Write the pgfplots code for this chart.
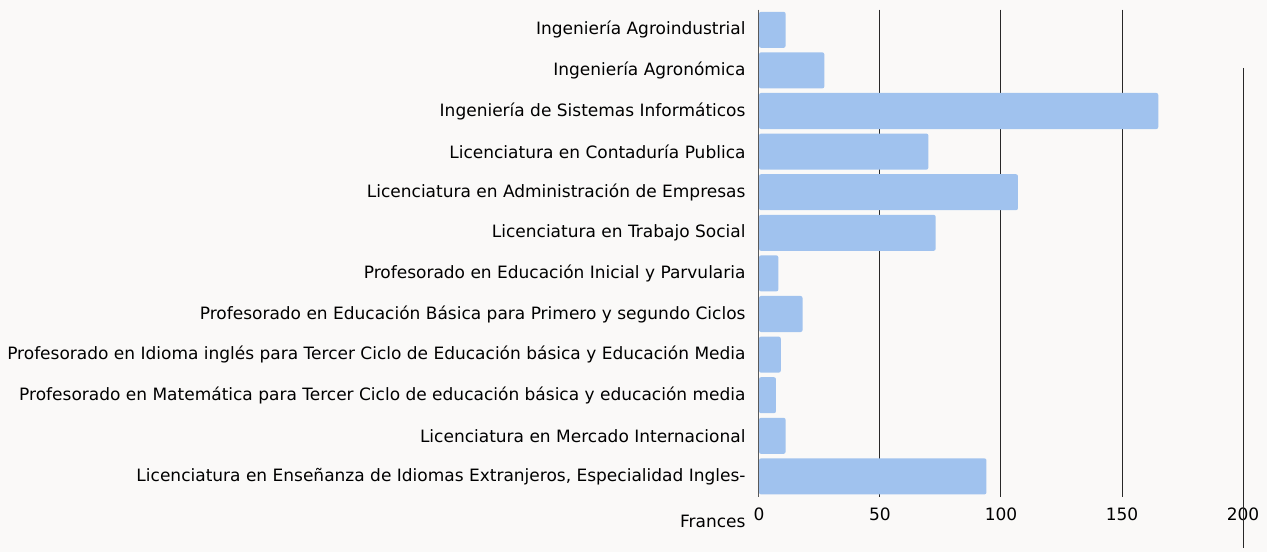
\documentclass[border=0pt]{standalone}
\usepackage{pgfplots}
\pgfplotsset{compat=1.18}
\usepackage{fontspec}
\setmainfont{DejaVu Sans}
\definecolor{bg}{RGB}{250,249,248}
\definecolor{barc}{RGB}{160,194,238}
\definecolor{gridc}{RGB}{40,40,40}
\begin{document}
\begin{tikzpicture}[x=1pt,y=1pt]
\fill[bg] (0,0) rectangle (1267,552);
\begin{axis}[
  at={(759pt,55.3pt)}, anchor=south west,
  scale only axis, width=484pt, height=487.2pt,
  xmin=0, xmax=200, ymin=-0.5, ymax=11.5,
  y dir=reverse,
  axis line style={draw=none},
  xtick={0,50,100,150,200},
  extra x ticks={50,100,150},
  extra x tick labels={},
  extra x tick style={grid=major, major grid style={gridc, line width=1pt}},
  major tick length=0pt,
  ytick={0,...,11},
  yticklabels={Ingeniería Agroindustrial,Ingeniería Agronómica,Ingeniería de Sistemas Informáticos,Licenciatura en Contaduría Publica,Licenciatura en Administración de Empresas,Licenciatura en Trabajo Social,Profesorado en Educación Inicial y Parvularia,Profesorado en Educación Básica para Primero y segundo Ciclos,Profesorado en Idioma inglés para Tercer Ciclo de Educación básica y Educación Media,Profesorado en Matemática para Tercer Ciclo de educación básica y educación media,Licenciatura en Mercado Internacional,{Licenciatura en Enseñanza de Idiomas Extranjeros, Especialidad Ingles-}},
  tick label style={font=\fontsize{17}{19}\selectfont, text=black},
  yticklabel style={xshift=-10pt},
  xticklabel style={yshift=-8pt},
  /pgf/number format/assume math mode=true,
  clip=false,
]
\addplot[xbar, bar width=0.887, fill=barc, draw=none, rounded corners=2pt] coordinates {
(11,0) (27,1) (165,2) (70,3) (107,4) (73,5) (8,6) (18,7) (9,8) (7,9) (11,10) (94,11)};
\addplot[gray!70!black, line width=1pt] coordinates {(0,-0.5) (0,11.5)};
\addplot[gridc, line width=1pt] coordinates {(200,0.94) (200,12.76)};
\node[anchor=east, font=\fontsize{17}{19}\selectfont, xshift=-10pt] at (axis cs:0,12.1) {Frances};
\end{axis}
\end{tikzpicture}
\end{document}
